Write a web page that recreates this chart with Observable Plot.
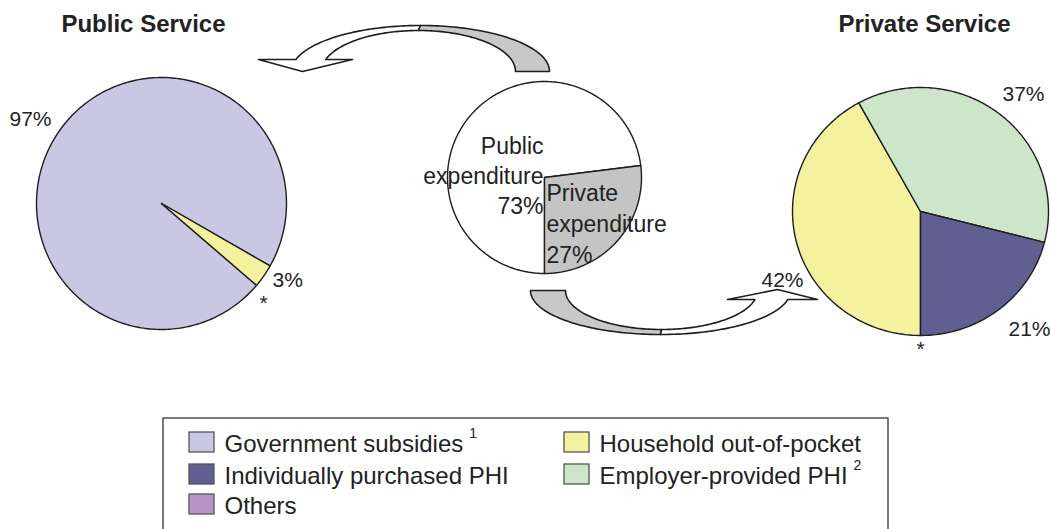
<!DOCTYPE html>
<html><head><meta charset="utf-8">
<script src="https://cdn.jsdelivr.net/npm/d3@7"></script>
<script src="https://cdn.jsdelivr.net/npm/@observablehq/plot@0.6"></script>
<style>html,body{margin:0;padding:0;background:#fff;} svg{display:block}</style>
</head><body><div id="chart"></div>
<script>
// ---------- data ----------
const titles = ["Public Service", "Private Service"];
const publicServiceCategories = ["Government subsidies", "Household out-of-pocket", "Others"];
const publicServiceValues = [97, 3, 0];
const expenditureCategories = ["Public expenditure", "Private expenditure"];
const expenditureValues = [73, 27];
const privateServiceCategories = ["Household out-of-pocket", "Employer-provided PHI", "Individually purchased PHI", "Others"];
const privateServiceValues = [42, 37, 21, 0];
const legendCategories = ["Government subsidies", "Individually purchased PHI", "Others", "Household out-of-pocket", "Employer-provided PHI"];
const legendNotes = ["1", "", "", "", "2"];
const othersMark = "*";

// ---------- styles ----------
const colors = {
  "Government subsidies": "#cac7e4",
  "Individually purchased PHI": "#5f5f92",
  "Others": "#b895c6",
  "Household out-of-pocket": "#f4f19f",
  "Employer-provided PHI": "#cde6c9",
  "Public expenditure": "#ffffff",
  "Private expenditure": "#c4c4c4"
};
const FONT = "'Liberation Sans', Arial, Helvetica, sans-serif";
const W = 1051, H = 529;

// ---------- layout ----------
const pies = [
  {cats: publicServiceCategories, vals: publicServiceValues, cx: 161, cy: 203, rx: 125, ry: 126, start: 130.5},
  {cats: expenditureCategories, vals: expenditureValues, cx: 544, cy: 177, rx: 97, ry: 96, start: 180},
  {cats: privateServiceCategories, vals: privateServiceValues, cx: 920, cy: 211, rx: 128, ry: 124, start: 180}
];

// pie slice outlines (angles clockwise from north)
const piePts = [];
pies.forEach((p, pi) => {
  const total = d3.sum(p.vals);
  let a = p.start;
  p.vals.forEach((v, i) => {
    const span = v / total * 360;
    if (v > 0) {
      const id = `pie${pi}-${i}`;
      const fill = colors[p.cats[i]];
      piePts.push({id, fill, x: p.cx, y: p.cy});
      const n = Math.max(2, Math.ceil(span));
      for (let k = 0; k <= n; k++) {
        const t = (a + span * k / n) * Math.PI / 180;
        piePts.push({id, fill, x: p.cx + p.rx * Math.sin(t), y: p.cy - p.ry * Math.cos(t)});
      }
      piePts.push({id, fill, x: p.cx, y: p.cy});
    }
    a += span;
  });
});

// curved band arrows
function ell(cx, cy, rx, ry, t0, t1, sgn) {
  const n = 60, out = [];
  for (let i = 0; i <= n; i++) {
    const t = t0 + (t1 - t0) * i / n;
    out.push([cx + rx * Math.cos(t), cy + sgn * ry * Math.sin(t)]);
  }
  return out;
}
const PI = Math.PI;
const arrowShapes = [];
{ // top arrow: to the public-service pie
  const O = [420, 71, 129, 46], I = [418, 71, 97, 41], dy = 12;
  const tO = PI - Math.asin(dy / O[3]), tI = PI - Math.asin(dy / I[3]);
  const white = [...ell(...O, PI / 2, tO, -1), [258, 59], [302, 71], [352, 59], ...ell(...I, tI, PI / 2, -1)];
  const gray = [...ell(...O, 0, PI / 2, -1), ...ell(...I, PI / 2, 0, -1)];
  arrowShapes.push({id: "a1w", fill: "#ffffff", pts: white}, {id: "a1g", fill: "#c8c8c8", pts: gray});
}
{ // bottom arrow: to the private-service pie
  const O = [660, 290, 130, 44], I = [661, 290, 96, 39], dy = 9;
  const tO = Math.asin(dy / O[3]), tI = Math.asin(dy / I[3]);
  const gray = [...ell(...O, PI, PI / 2, 1), ...ell(...I, PI / 2, PI, 1)];
  const white = [...ell(...O, PI / 2, tO, 1), [817, 299], [777, 289], [727, 299], ...ell(...I, tI, PI / 2, 1)];
  arrowShapes.push({id: "a2g", fill: "#c8c8c8", pts: gray}, {id: "a2w", fill: "#ffffff", pts: white});
}
const arrowPts = arrowShapes.flatMap(s => [...s.pts, s.pts[0]].map(([x, y]) => ({id: s.id, fill: s.fill, x, y})));

// text labels
const pct = v => `${v}%`;
const labels = [
  {text: titles[0], x: 143, y: 31, anchor: "middle", size: 24, weight: "bold"},
  {text: titles[1], x: 924, y: 31, anchor: "middle", size: 24, weight: "bold"},
  {text: pct(publicServiceValues[0]), x: 9, y: 125, anchor: "start", size: 21},
  {text: pct(publicServiceValues[1]), x: 272, y: 286, anchor: "start", size: 21},
  {text: othersMark, x: 263, y: 309, anchor: "middle", size: 21},
  {text: pct(privateServiceValues[0]), x: 761, y: 286, anchor: "start", size: 21},
  {text: pct(privateServiceValues[1]), x: 1002, y: 100, anchor: "start", size: 21},
  {text: pct(privateServiceValues[2]), x: 1008, y: 335, anchor: "start", size: 21},
  {text: othersMark, x: 920, y: 355, anchor: "middle", size: 21},
  {text: [...expenditureCategories[0].split(" "), pct(expenditureValues[0])].join("\n"), x: 543, y: 213, anchor: "end", size: 23, lh: 30},
  {text: [...expenditureCategories[1].split(" "), pct(expenditureValues[1])].join("\n"), x: 546, y: 262, anchor: "start", size: 23, lh: 31}
];

// legend
const legendBox = {x1: 163, x2: 888, y1: 418, y2: 560};
const legendPos = [
  {x: 189, y: 432}, {x: 189, y: 464}, {x: 189, y: 494},
  {x: 564, y: 432}, {x: 564, y: 464}
];
const ctx = document.createElement("canvas").getContext("2d");
ctx.font = `24px ${FONT}`;
const legendItems = legendCategories.map((c, i) => ({
  cat: c, note: legendNotes[i], fill: colors[c],
  x1: legendPos[i].x, x2: legendPos[i].x + 25, y1: legendPos[i].y, y2: legendPos[i].y + 20,
  tx: legendPos[i].x + 35, ty: legendPos[i].y + 19,
  nx: legendPos[i].x + 35 + ctx.measureText(c).width + 6, ny: legendPos[i].y + 5
}));

const textMarks = labels.map(l => Plot.text([l], {
  x: "x", y: "y", text: "text", textAnchor: l.anchor, lineAnchor: "bottom",
  fontSize: l.size, fontWeight: l.weight || "normal", lineHeight: (l.lh || l.size) / l.size,
  fill: "#222"
}));

const chart = Plot.plot({
  width: W, height: H,
  margin: 0,
  x: {domain: [0, W], range: [0, W], axis: null},
  y: {domain: [0, H], range: [0, H], axis: null},
  color: {type: "identity"},
  style: {fontFamily: FONT, background: "#fff", overflow: "hidden"},
  marks: [
    Plot.line(arrowPts, {x: "x", y: "y", z: "id", fill: "fill", stroke: "#1e1e1e", strokeWidth: 1.6, curve: "linear"}),
    Plot.line(piePts, {x: "x", y: "y", z: "id", fill: "fill", stroke: "#1e1e1e", strokeWidth: 1.4, curve: "linear"}),
    ...textMarks,
    Plot.rect([legendBox], {x1: "x1", x2: "x2", y1: "y1", y2: "y2", fill: "none", stroke: "#333", strokeWidth: 1.3}),
    Plot.rect(legendItems, {x1: "x1", x2: "x2", y1: "y1", y2: "y2", fill: "fill", stroke: "#555", strokeWidth: 1.3}),
    Plot.text(legendItems, {x: "tx", y: "ty", text: "cat", textAnchor: "start", lineAnchor: "bottom", fontSize: 24, fill: "#222"}),
    Plot.text(legendItems.filter(d => d.note), {x: "nx", y: "ny", text: "note", textAnchor: "start", lineAnchor: "bottom", fontSize: 14, fill: "#222"})
  ]
});
document.getElementById("chart").appendChild(chart);
</script>
</body></html>
